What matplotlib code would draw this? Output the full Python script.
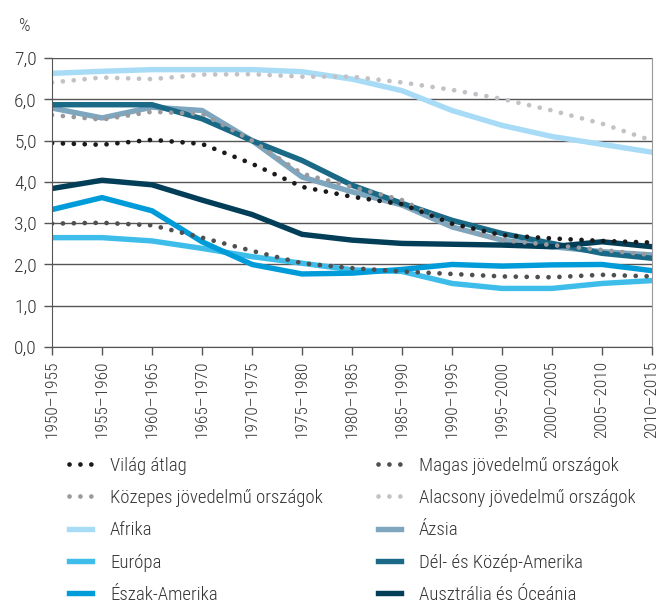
import numpy as np
import matplotlib
matplotlib.use('Agg')
import matplotlib.pyplot as plt
from matplotlib import font_manager

# Font: a narrow family if there is one
names = set(f.name for f in font_manager.fontManager.ttflist)
fam = 'DejaVu Sans'
for cand in ['Roboto Condensed', 'Liberation Sans Narrow', 'Roboto']:
    if cand in names:
        fam = cand
        break
plt.rcParams['font.family'] = [fam, 'DejaVu Sans']
plt.rcParams['font.weight'] = 'light'

periods = ['1950–1955', '1955–1960', '1960–1965', '1965–1970', '1970–1975',
           '1975–1980', '1980–1985', '1985–1990', '1990–1995', '1995–2000',
           '2000–2005', '2005–2010', '2010–2015']

vilag     = [4.94, 4.90, 5.02, 4.92, 4.44, 3.88, 3.64, 3.46, 2.99, 2.71, 2.63, 2.57, 2.53]
magas     = [2.99, 3.01, 2.95, 2.65, 2.33, 2.03, 1.91, 1.83, 1.77, 1.71, 1.69, 1.75, 1.71]
kozepes   = [5.62, 5.51, 5.70, 5.65, 5.00, 4.20, 3.88, 3.56, 2.95, 2.59, 2.47, 2.35, 2.23]
alacsony  = [6.41, 6.53, 6.49, 6.60, 6.61, 6.55, 6.55, 6.41, 6.23, 6.01, 5.73, 5.41, 5.00]
afrika    = [6.63, 6.68, 6.72, 6.72, 6.72, 6.67, 6.49, 6.21, 5.73, 5.37, 5.10, 4.91, 4.72]
azsia     = [5.79, 5.55, 5.81, 5.73, 5.00, 4.12, 3.76, 3.44, 2.91, 2.59, 2.43, 2.31, 2.23]
europa    = [2.65, 2.65, 2.57, 2.39, 2.19, 2.03, 1.87, 1.83, 1.54, 1.42, 1.42, 1.54, 1.61]
del_kozep = [5.87, 5.87, 5.87, 5.53, 5.00, 4.52, 3.92, 3.48, 3.07, 2.75, 2.51, 2.27, 2.15]
eszak     = [3.33, 3.62, 3.30, 2.55, 2.00, 1.77, 1.79, 1.88, 2.00, 1.96, 1.99, 2.00, 1.85]
ausztral  = [3.84, 4.04, 3.93, 3.56, 3.21, 2.73, 2.59, 2.51, 2.49, 2.47, 2.43, 2.55, 2.43]

x = np.arange(len(periods))

fig = plt.figure(figsize=(6.6, 6.05), dpi=100)
ax = fig.add_axes([0.0788, 0.4264, 0.9092, 0.4776])

dot = (0, (0.01, 2.3))
dlw = 3.4
slw = 3.9

# solid lines
l_afr, = ax.plot(x, afrika, color='#a8dcf6', lw=slw)
l_azs, = ax.plot(x, azsia, color='#7fa6bf', lw=slw)
l_del, = ax.plot(x, del_kozep, color='#1a6a87', lw=slw)
l_aus, = ax.plot(x, ausztral, color='#023e58', lw=slw)
l_eur, = ax.plot(x, europa, color='#3ebdea', lw=slw)
l_esz, = ax.plot(x, eszak, color='#009cd9', lw=slw)
# dotted lines
l_ala, = ax.plot(x, alacsony, color='#c2c2c6', lw=dlw, ls=dot, dash_capstyle='round')
l_koz, = ax.plot(x, kozepes, color='#9a9a9e', lw=dlw, ls=dot, dash_capstyle='round')
l_mag, = ax.plot(x, magas, color='#4f4f52', lw=dlw, ls=dot, dash_capstyle='round')
l_vil, = ax.plot(x, vilag, color='#1a1a1a', lw=dlw, ls=dot, dash_capstyle='round')

ax.set_xlim(0, len(periods) - 1)
ax.set_ylim(0, 7)
ax.set_yticks(np.arange(0, 8, 1))
ax.set_yticklabels(['{:.1f}'.format(v).replace('.', ',') for v in range(8)])
ax.set_xticks(x)
ax.set_xticklabels(periods, rotation=90)
ax.yaxis.grid(True, color='#555555', lw=1.0)
ax.set_axisbelow(True)
ax.spines['top'].set_visible(False)
ax.spines['left'].set_color('#555555')
ax.spines['bottom'].set_color('#555555')
ax.spines['right'].set_color('#999999')
ax.tick_params(axis='both', colors='#555555', labelcolor='#333333', length=6, width=1)
ax.tick_params(axis='y', labelsize=14, pad=5)
ax.tick_params(axis='x', labelsize=12.5, pad=4)
ax.text(-0.045, 1.11, '%', transform=ax.transAxes, ha='center', va='center', fontsize=13, color='#333333')

col1 = [l_vil, l_koz, l_afr, l_eur, l_esz]
lab1 = ['Világ átlag', 'Közepes jövedelmű országok', 'Afrika', 'Európa', 'Észak-Amerika']
col2 = [l_mag, l_ala, l_azs, l_del, l_aus]
lab2 = ['Magas jövedelmű országok', 'Alacsony jövedelmű országok', 'Ázsia',
        'Dél- és Közép-Amerika', 'Ausztrália és Óceánia']
kw = dict(loc='upper left', frameon=False, fontsize=13.5, handlelength=1.25,
          handletextpad=0.95, labelspacing=0.76, labelcolor='#333333',
          borderaxespad=0, borderpad=0)
leg1 = fig.legend(col1, lab1, bbox_to_anchor=(0.104, 0.245), **kw)
leg2 = fig.legend(col2, lab2, bbox_to_anchor=(0.572, 0.245), **kw)

fig.savefig('out.png', dpi=100)
